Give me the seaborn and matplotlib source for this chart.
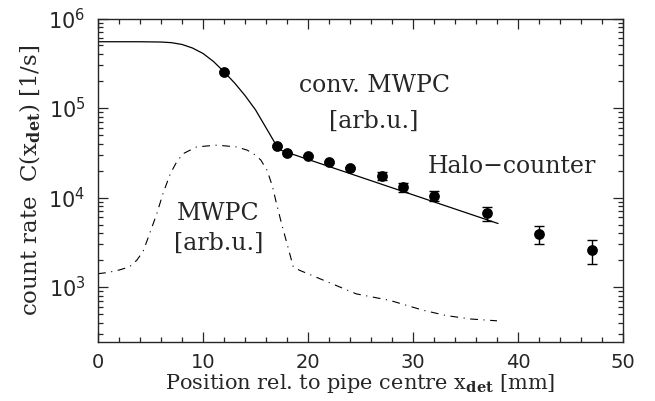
import matplotlib
matplotlib.use("Agg")
import matplotlib.pyplot as plt
from matplotlib.ticker import MultipleLocator, LogLocator, NullFormatter
import seaborn as sns

# Halo-counter measurements
pos_mm = [12, 17, 18, 20, 22, 24, 27, 29, 32, 37, 42, 47]
rate = [2.52e5, 3.78e4, 3.15e4, 2.90e4, 2.50e4, 2.14e4, 1.74e4, 1.31e4, 1.04e4, 6.7e3, 3.95e3, 2.57e3]
rate_err = [6e3, 1.2e3, 1.0e3, 0.9e3, 0.8e3, 0.7e3, 1.8e3, 1.5e3, 1.3e3, 1.2e3, 0.9e3, 0.77e3]

# conv. MWPC curve (solid)
conv_x = [0, 2, 4, 6, 7, 8, 9, 10, 11, 12, 13, 14, 15, 16, 17, 17.5, 38.1]
conv_y = [5.50e5, 5.50e5, 5.50e5, 5.46e5, 5.37e5, 5.13e5, 4.68e5, 4.07e5, 3.31e5,
          2.54e5, 1.91e5, 1.38e5, 9.55e4, 6.03e4, 3.80e4, 3.35e4, 5.13e3]

# MWPC profile (dash-dot)
mwpc_x = [0, 1, 2, 3, 3.7, 4.3, 4.8, 5.6, 6.2, 6.9, 7.5, 8.1, 9.4, 11.3, 13.2, 14.2,
          14.8, 15.5, 16.1, 16.6, 17.0, 17.5, 18.0, 18.6, 19.2, 21.5, 24.6, 27.8,
          31.0, 33.2, 35.5, 38.0]
mwpc_y = [1410, 1460, 1550, 1680, 2000, 2510, 3630, 6600, 11200, 18600, 25100, 30900,
          36800, 38500, 36800, 33900, 30900, 26300, 20200, 13500, 8570, 5010, 3060,
          1680, 1540, 1190, 840, 710, 550, 480, 440, 420]

sns.set_style("ticks")
plt.rcParams["font.family"] = ["DejaVu Serif"]
plt.rcParams["mathtext.fontset"] = "dejavuserif"

fig = plt.figure(figsize=(6.55, 4.01), dpi=100)
ax = fig.add_axes([98 / 655, 1 - 341.7 / 401, 525 / 655, (341.7 - 18.5) / 401])

sns.lineplot(x=conv_x, y=conv_y, ax=ax, sort=False, estimator=None,
             color="black", linewidth=0.9)
sns.lineplot(x=mwpc_x, y=mwpc_y, ax=ax, sort=False, estimator=None,
             color="black", linewidth=0.8, linestyle=(0, (7, 5, 1, 5)))
ax.errorbar(pos_mm, rate, yerr=rate_err, fmt="none", ecolor="black",
            elinewidth=1.0, capsize=3.6, capthick=1.0)
sns.scatterplot(x=pos_mm, y=rate, ax=ax, color="black", s=60, edgecolor="black",
                linewidth=0, zorder=5)

ax.set_yscale("log")
ax.set_xlim(0, 50)
ax.set_ylim(10 ** 2.39, 1e6)

ax.xaxis.set_major_locator(MultipleLocator(10))
ax.xaxis.set_minor_locator(MultipleLocator(2))
ax.yaxis.set_major_locator(LogLocator(base=10, numticks=10))
ax.yaxis.set_minor_locator(LogLocator(base=10, subs=range(2, 10), numticks=20))
ax.yaxis.set_minor_formatter(NullFormatter())

ax.tick_params(which="both", direction="in", top=True, right=True, width=0.9)
ax.tick_params(which="major", length=7)
ax.tick_params(which="minor", length=3.5)
ax.tick_params(axis="x", labelsize=14, pad=8)
ax.tick_params(axis="y", labelsize=15, pad=9)
for lab in ax.get_xticklabels() + ax.get_yticklabels():
    lab.set_family("DejaVu Sans")
for sp in ax.spines.values():
    sp.set_linewidth(1.0)

ax.set_xlabel(r"Position rel. to pipe centre x$_{\mathbf{det}}$ [mm]", fontsize=15, labelpad=0)
ax.set_ylabel(r"count rate  C(x$_{\mathbf{det}}$) [1/s]", fontsize=16.5, labelpad=4)

ax.text(26.3, 10 ** 5.256, "conv. MWPC", ha="center", va="center", fontsize=17)
ax.text(26.3, 10 ** 4.846, "[arb.u.]", ha="center", va="center", fontsize=17)
ax.text(39.4, 10 ** 4.342, "Halo\u2212counter", ha="center", va="center", fontsize=17)
ax.text(11.4, 10 ** 3.82, "MWPC", ha="center", va="center", fontsize=17)
ax.text(11.5, 10 ** 3.485, "[arb.u.]", ha="center", va="center", fontsize=17)

fig.savefig("out.png", dpi=100)
